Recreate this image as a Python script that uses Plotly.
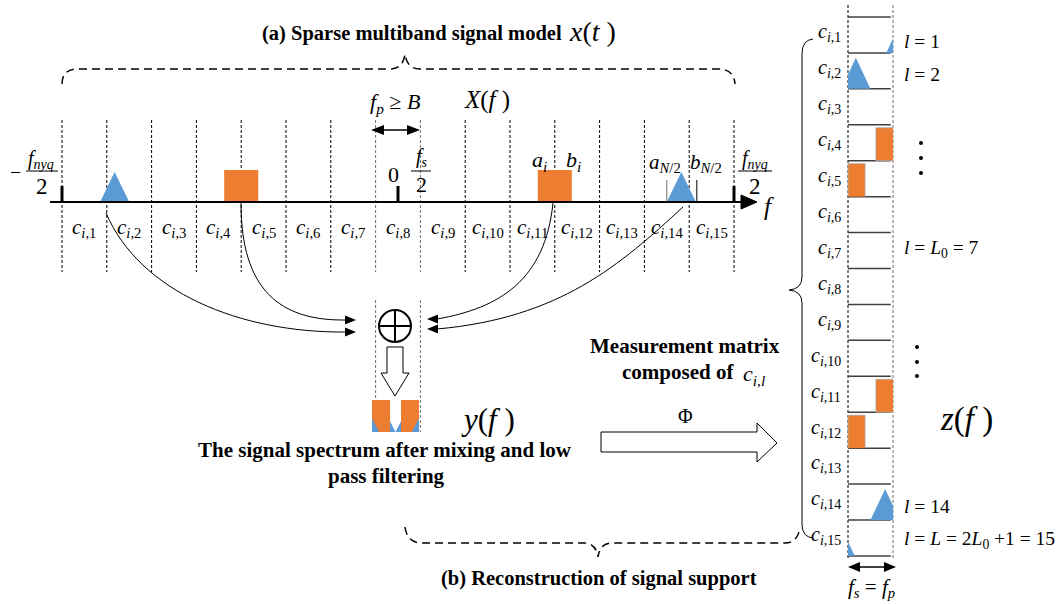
import plotly.graph_objects as go

# ---------------- data ----------------
cell_index = list(range(1, 16))
cell_edges = [-7.5 + k for k in range(16)]          # frequency, in units of f_p
cell_centers = [-7.0 + k for k in range(15)]
band_lo = [-6.65, -3.88, 3.12, 6.00]
band_hi = [-6.00, -3.12, 3.88, 6.65]
band_kind = ["tri", "rect", "rect", "tri"]
band_amp = [0.94, 1.0, 1.0, 0.94]
tagged_rows = [1, 2, 7, 14, 15]
tagged_text = ["<i>l</i> = 1", "<i>l</i> = 2", "<i>l</i> = <i>L</i><sub>0</sub> = 7",
               "<i>l</i> = 14", "<i>l</i> = <i>L</i> = 2<i>L</i><sub>0</sub> +1 = 15"]
tagged_dy = [7, 4, -2, 4, 2]

# ---------------- style / geometry ----------------
W, H = 1062, 604
BLUE, ORANGE = "#5B9BD5", "#ED7D31"
SERIF = "Liberation Serif"
F0_PX, PX_PER_F, BASE_PX, PX_PER_AMP = 398.0, 44.8, 202.0, 32.0
COL_X0, COL_W, ROW_Y0, ROW_H, COL_AMP_PX = 848.0, 45.0, 17.0, 35.93, 33.0
YF_X0, YF_W, YF_BASE, YF_AMP_PX = 372.0, 47.0, 432.0, 32.0


def band_poly(i):
    lo, hi, a = band_lo[i], band_hi[i], band_amp[i]
    if band_kind[i] == "tri":
        return [(lo, 0.0), ((lo + hi) / 2, a), (hi, 0.0)]
    return [(lo, 0.0), (lo, a), (hi, a), (hi, 0.0)]


def clip_x(poly, xb, keep_right):
    out = []
    inside = (lambda x: x >= xb) if keep_right else (lambda x: x <= xb)
    for k in range(len(poly)):
        cur, prev = poly[k], poly[k - 1]
        cin, pin = inside(cur[0]), inside(prev[0])
        if cin != pin:
            t = (xb - prev[0]) / (cur[0] - prev[0])
            out.append((xb, prev[1] + t * (cur[1] - prev[1])))
        if cin:
            out.append(cur)
    return out


fig = go.Figure()

# top spectrum X(f)
for i in range(len(band_lo)):
    p = band_poly(i)
    fig.add_trace(go.Scatter(x=[q[0] for q in p], y=[q[1] for q in p], fill="toself",
                             fillcolor=BLUE if band_kind[i] == "tri" else ORANGE,
                             line=dict(width=0), mode="lines", xaxis="x2", yaxis="y2",
                             hoverinfo="skip"))

# folded pieces (right column z(f) and y(f))
pieces = []
for l in cell_index:
    c0, c1 = cell_edges[l - 1], cell_edges[l]
    for i in range(len(band_lo)):
        p = clip_x(clip_x(band_poly(i), c0, True), c1, False)
        if len(p) >= 3:
            pieces.append((l, i, [(q[0] - c0, q[1]) for q in p]))

k_row = COL_AMP_PX / ROW_H
for l, i, p in pieces:
    col = BLUE if band_kind[i] == "tri" else ORANGE
    fig.add_trace(go.Scatter(x=[q[0] for q in p], y=[l - q[1] * k_row for q in p],
                             fill="toself", fillcolor=col, mode="lines",
                             line=dict(width=0.8 if band_kind[i] == "rect" else 0,
                                       color="#b0b0b0"),
                             xaxis="x3", yaxis="y3", hoverinfo="skip"))


def piece_order(pc):
    l, i, p = pc
    w = max(q[0] for q in p) - min(q[0] for q in p)
    if band_kind[i] == "tri":
        return 0 if w > 0.3 else 2
    return 1


for l, i, p in sorted(pieces, key=piece_order):
    col = BLUE if band_kind[i] == "tri" else ORANGE
    fig.add_trace(go.Scatter(x=[q[0] for q in p], y=[q[1] for q in p], fill="toself",
                             fillcolor=col, mode="lines", line=dict(width=0),
                             xaxis="x4", yaxis="y4", hoverinfo="skip"))

# ellipsis dots
fig.add_trace(go.Scatter(x=[921, 921, 921, 917, 917, 917], y=[143, 158, 173, 347, 362, 376],
                         mode="markers", marker=dict(size=4, color="black"),
                         xaxis="x", yaxis="y", hoverinfo="skip"))

shapes = []
DOT = "3px,2px"
# top cell boundaries
for e in cell_edges:
    gray = abs(e) == 0.5
    shapes.append(dict(type="line", xref="x2", yref="y", x0=e, x1=e, y0=120, y1=272,
                       line=dict(color="#707070" if gray else "black", width=1, dash=DOT),
                       layer="below"))
    if gray:
        shapes.append(dict(type="line", xref="x2", yref="y", x0=e, x1=e, y0=300, y1=432,
                           line=dict(color="#707070", width=1, dash=DOT), layer="below"))
# frequency axis
shapes.append(dict(type="line", xref="x", yref="y", x0=50, x1=744, y0=BASE_PX, y1=BASE_PX,
                   line=dict(color="black", width=2)))
shapes.append(dict(type="path", xref="x", yref="y", path="M 741,195 L 757,202 L 741,209 Z",
                   fillcolor="black", line=dict(color="black", width=1)))
for e in [cell_edges[0], 0.0, cell_edges[-1]]:
    shapes.append(dict(type="line", xref="x2", yref="y", x0=e, x1=e, y0=186, y1=BASE_PX,
                       line=dict(color="black", width=3)))
# a_{N/2}, b_{N/2} ticks
for xv, c in [(band_lo[3], "#707070"), (band_hi[3] + 0.02, "black")]:
    shapes.append(dict(type="line", xref="x2", yref="y", x0=xv, x1=xv, y0=180, y1=BASE_PX,
                       line=dict(color=c, width=1)))
# fraction bars
for x0, x1 in [(26, 58), (411, 431), (738, 772)]:
    shapes.append(dict(type="line", xref="x", yref="y", x0=x0, x1=x1, y0=171, y1=171,
                       line=dict(color="black", width=1)))
# f_p double arrow
shapes.append(dict(type="line", xref="x", yref="y", x0=380, x1=412, y0=130, y1=130,
                   line=dict(color="black", width=1.5)))
shapes.append(dict(type="path", xref="x", yref="y", path="M 371,130 L 384,125 L 384,135 Z",
                   fillcolor="black", line=dict(width=0)))
shapes.append(dict(type="path", xref="x", yref="y", path="M 420,130 L 407,125 L 407,135 Z",
                   fillcolor="black", line=dict(width=0)))
# dashed braces
shapes.append(dict(type="path", xref="x", yref="y",
                   path="M 62,84 Q 62,69 78,69 L 390,69 Q 403,69 405,54 Q 407,69 420,69 "
                        "L 718,69 Q 734,69 735,84",
                   line=dict(color="black", width=1.5, dash="8px,5px")))
shapes.append(dict(type="path", xref="x", yref="y",
                   path="M 405,527 Q 407,543 422,543 L 584,543 Q 596,543 598,557 "
                        "Q 600,543 612,543 L 785,543 Q 798,543 800,527",
                   line=dict(color="black", width=1.5, dash="8px,5px")))
# right curly brace
shapes.append(dict(type="path", xref="x", yref="y",
                   path="M 813,39 Q 802,40 802,54 L 802,277 Q 802,289 789,290 "
                        "Q 802,291 802,303 L 802,524 Q 802,537 813,538",
                   line=dict(color="black", width=1)))
# curved arrows
for pth in ["M 106,213 C 140,292 240,333 346,332",
            "M 241,203 C 241,290 280,321 346,320",
            "M 553,203 C 545,280 500,308 437,319",
            "M 683,207 C 620,265 560,318 437,329"]:
    shapes.append(dict(type="path", xref="x", yref="y", path=pth,
                       line=dict(color="black", width=1)))
for pth in ["M 345,315.5 L 356,320 L 345,324.5 Z", "M 345,327.5 L 356,332 L 345,336.5 Z",
            "M 438,314.5 L 427,319 L 438,323.5 Z", "M 438,324.5 L 427,329 L 438,333.5 Z"]:
    shapes.append(dict(type="path", xref="x", yref="y", path=pth, fillcolor="black",
                       line=dict(width=0)))
# circle-plus
shapes.append(dict(type="circle", xref="x", yref="y", x0=379, x1=411, y0=310, y1=342,
                   line=dict(color="black", width=2)))
shapes.append(dict(type="line", xref="x", yref="y", x0=379, x1=411, y0=326, y1=326,
                   line=dict(color="black", width=2)))
shapes.append(dict(type="line", xref="x", yref="y", x0=395, x1=395, y0=310, y1=342,
                   line=dict(color="black", width=2)))
# hollow arrows
shapes.append(dict(type="path", xref="x", yref="y",
                   path="M 387,347 L 403,347 L 403,373 L 409,373 L 395,396 L 381,373 L 387,373 Z",
                   fillcolor="white", line=dict(color="black", width=1)))
shapes.append(dict(type="path", xref="x", yref="y",
                   path="M 601,432 L 757,432 L 757,423 L 777,443 L 757,462 L 757,452 L 601,452 Z",
                   fillcolor="white", line=dict(color="black", width=1)))
# right column
shapes.append(dict(type="line", xref="x3", yref="y", x0=0, x1=0, y0=5, y1=558,
                   line=dict(color="black", width=1, dash=DOT), layer="below"))
shapes.append(dict(type="line", xref="x3", yref="y", x0=1, x1=1, y0=5, y1=558,
                   line=dict(color="#707070", width=1, dash=DOT), layer="below"))
for l in [0] + cell_index:
    shapes.append(dict(type="line", xref="x3", yref="y3", x0=0, x1=0.95, y0=l, y1=l,
                       line=dict(color="#404040", width=1.5), layer="below"))
shapes.append(dict(type="line", xref="x", yref="y", x0=858, x1=886, y0=567, y1=567,
                   line=dict(color="black", width=1.5)))
shapes.append(dict(type="path", xref="x", yref="y", path="M 848,567 L 860,562 L 860,572 Z",
                   fillcolor="black", line=dict(width=0)))
shapes.append(dict(type="path", xref="x", yref="y", path="M 896,567 L 884,562 L 884,572 Z",
                   fillcolor="black", line=dict(width=0)))

ann = []


def txt(x, y, s, size, xref="x", yref="y", xanchor="center", color="black"):
    ann.append(dict(x=x, y=y, xref=xref, yref=yref, text=s, showarrow=False,
                    xanchor=xanchor, yanchor="middle",
                    font=dict(family=SERIF, size=size, color=color)))


txt(412, 33, "<b>(a) Sparse multiband signal model</b>", 20.5)
txt(592, 31, "<i>x</i>(<i>t</i> )", 28)
txt(395, 103, "<i>f</i><sub><i>p</i></sub> ≥ <i>B</i>", 22)
txt(487, 100, "<i>X</i>(<i>f</i> )", 25)
txt(15, 172, "−", 20)
txt(41, 159, "<i>f</i><sub><i>nyq</i></sub>", 20)
txt(42, 186, "2", 23)
txt(755, 159, "<i>f</i><sub><i>nyq</i></sub>", 20)
txt(755, 186, "2", 23)
txt(393, 174, "0", 22)
txt(422, 157, "<i>f</i><sub><i>s</i></sub>", 20)
txt(421, 184, "2", 22)
txt(539, 161, "<i>a</i><sub><i>i</i></sub>", 22)
txt(573, 161, "<i>b</i><sub><i>i</i></sub>", 22)
txt(665, 163, "<i>a</i><sub><i>N</i>/2</sub>", 21)
txt(706, 163, "<i>b</i><sub><i>N</i>/2</sub>", 21)
txt(769, 206, "<i>f</i>", 25)
for k, cc in zip(cell_index, cell_centers):
    txt(cc, 228, f"<i>c</i><sub><i>i</i>,{k}</sub>", 21, xref="x2")
    txt(843, k - 0.56, f"<i>c</i><sub><i>i</i>,{k}</sub>", 20, yref="y3", xanchor="right")
for l, s, dy in zip(tagged_rows, tagged_text, tagged_dy):
    txt(902, l - 0.5 + dy / ROW_H, s, 19.5, yref="y3", xanchor="left")
txt(488, 419, "<i>y</i>(<i>f</i> )", 31)
txt(966, 419, "<i>z</i>(<i>f</i> )", 33)
txt(385, 450, "<b>The signal spectrum after mixing and low</b>", 21)
txt(386, 476, "<b>pass filtering</b>", 21)
txt(685, 346, "<b>Measurement matrix</b>", 21)
txt(678, 372, "<b>composed of</b>", 21)
txt(741, 375, "<i>c</i><sub><i>i,l</i></sub>", 22, xanchor="left")
txt(685, 416, "Φ", 20)
txt(599, 578, "<b>(b) Reconstruction of signal support</b>", 20.5)
txt(871, 588, "<i>f</i><sub><i>s</i></sub> = <i>f</i><sub><i>p</i></sub>", 21)


def axis(rng, over=None):
    d = dict(range=rng, visible=False, fixedrange=True, domain=[0, 1])
    if over:
        d["overlaying"] = over
    return d


fig.update_layout(
    width=W, height=H, autosize=False, margin=dict(l=0, r=0, t=0, b=0),
    paper_bgcolor="white", plot_bgcolor="white", showlegend=False,
    font=dict(family=SERIF),
    xaxis=axis([0, W]), yaxis=axis([H, 0]),
    xaxis2=axis([(0 - F0_PX) / PX_PER_F, (W - F0_PX) / PX_PER_F], "x"),
    yaxis2=axis([(BASE_PX - H) / PX_PER_AMP, BASE_PX / PX_PER_AMP], "y"),
    xaxis3=axis([(0 - COL_X0) / COL_W, (W - COL_X0) / COL_W], "x"),
    yaxis3=axis([(H - ROW_Y0) / ROW_H, (0 - ROW_Y0) / ROW_H], "y"),
    xaxis4=axis([(0 - YF_X0) / YF_W, (W - YF_X0) / YF_W], "x"),
    yaxis4=axis([(YF_BASE - H) / YF_AMP_PX, YF_BASE / YF_AMP_PX], "y"),
    shapes=shapes, annotations=ann,
)
fig.write_html("out.html")
